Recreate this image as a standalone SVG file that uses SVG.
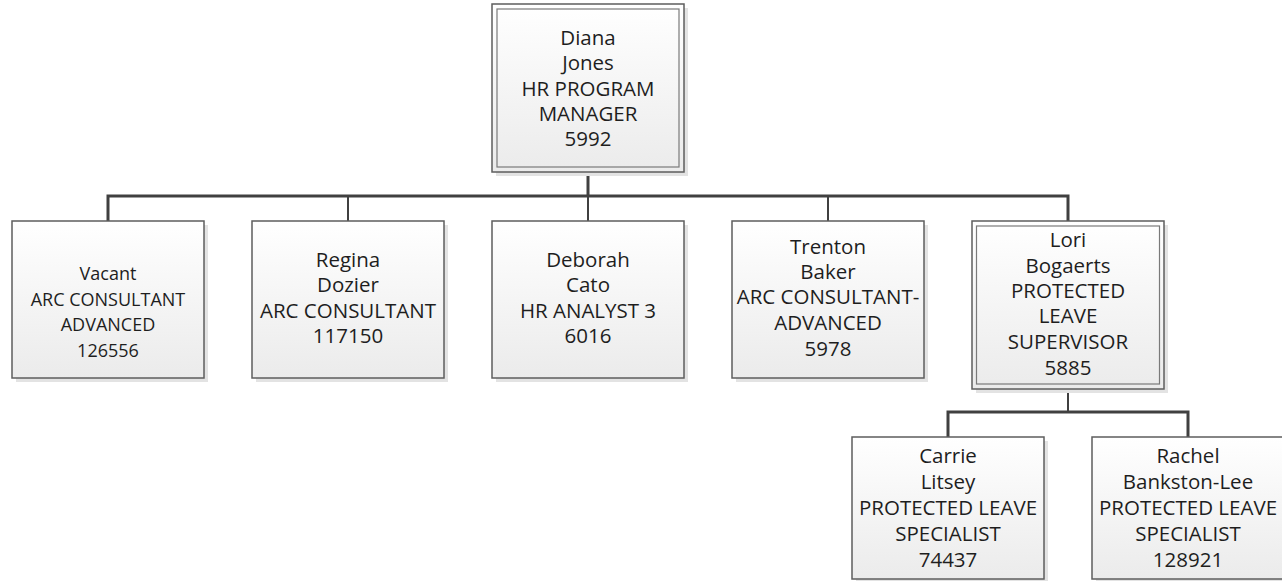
<svg xmlns="http://www.w3.org/2000/svg" width="1282" height="581" viewBox="0 0 1282 581">
<defs>
<linearGradient id="fillg" x1="0" y1="0" x2="0" y2="1">
<stop offset="0" stop-color="#ffffff"/>
<stop offset="1" stop-color="#ebebeb"/>
</linearGradient>
</defs>
<style>
.shadow{fill:#e3e3e3;stroke:none}
.box{fill:url(#fillg);stroke:#5e5e5e;stroke-width:1.5}
.inner{fill:none;stroke:#7a7a7a;stroke-width:1.2}
.bus{fill:none;stroke:#404040;stroke-width:3}
.drop{fill:none;stroke:#404040;stroke-width:2}
text{font-family:"Open Sans","Liberation Sans",sans-serif;font-size:20.5px;fill:#1e1e1e;text-anchor:middle}
text.small{font-size:18px}
</style>
<rect width="1282" height="581" fill="#ffffff"/>
<g id="connectors">
<path class="bus" d="M588,172 V196"/>
<path class="bus" d="M108,221 V196 H1068 V221"/>
<path class="drop" d="M348,196 V221 M588,196 V221 M828,196 V221"/>
<path class="drop" d="M1068,389 V412"/>
<path class="bus" d="M948,437 V412 H1188 V437"/>
</g>
<g id="diana">
<rect class="shadow" x="496" y="8" width="192" height="168"/>
<rect class="box" x="492" y="4" width="192" height="168"/>
<rect class="inner" x="497" y="9" width="182" height="158"/>
<text x="588" y="45">Diana</text>
<text x="588" y="70">Jones</text>
<text x="588" y="96">HR PROGRAM</text>
<text x="588" y="121">MANAGER</text>
<text x="588" y="146">5992</text>
</g>
<g id="vacant">
<rect class="shadow" x="16" y="225" width="192" height="157"/>
<rect class="box" x="12" y="221" width="192" height="157"/>
<text class="small" x="108" y="280">Vacant</text>
<text class="small" x="108" y="306">ARC CONSULTANT</text>
<text class="small" x="108" y="331">ADVANCED</text>
<text class="small" x="108" y="357">126556</text>
</g>
<g id="regina">
<rect class="shadow" x="256" y="225" width="192" height="157"/>
<rect class="box" x="252" y="221" width="192" height="157"/>
<text x="348" y="267">Regina</text>
<text x="348" y="292">Dozier</text>
<text x="348" y="318">ARC CONSULTANT</text>
<text x="348" y="343">117150</text>
</g>
<g id="deborah">
<rect class="shadow" x="496" y="225" width="192" height="157"/>
<rect class="box" x="492" y="221" width="192" height="157"/>
<text x="588" y="267">Deborah</text>
<text x="588" y="292">Cato</text>
<text x="588" y="318">HR ANALYST 3</text>
<text x="588" y="343">6016</text>
</g>
<g id="trenton">
<rect class="shadow" x="736" y="225" width="192" height="157"/>
<rect class="box" x="732" y="221" width="192" height="157"/>
<text x="828" y="254">Trenton</text>
<text x="828" y="279">Baker</text>
<text x="828" y="304">ARC CONSULTANT-</text>
<text x="828" y="330">ADVANCED</text>
<text x="828" y="356">5978</text>
</g>
<g id="lori">
<rect class="shadow" x="976" y="225" width="192" height="168"/>
<rect class="box" x="972" y="221" width="192" height="168"/>
<rect class="inner" x="976.5" y="226" width="183" height="158"/>
<text x="1068" y="247">Lori</text>
<text x="1068" y="273">Bogaerts</text>
<text x="1068" y="298">PROTECTED</text>
<text x="1068" y="323">LEAVE</text>
<text x="1068" y="349">SUPERVISOR</text>
<text x="1068" y="375">5885</text>
</g>
<g id="carrie">
<rect class="shadow" x="856" y="441" width="192" height="150"/>
<rect class="box" x="852" y="437" width="192" height="142"/>
<text x="948" y="463">Carrie</text>
<text x="948" y="489">Litsey</text>
<text x="948" y="515">PROTECTED LEAVE</text>
<text x="948" y="541">SPECIALIST</text>
<text x="948" y="567">74437</text>
</g>
<g id="rachel">
<rect class="shadow" x="1096" y="441" width="192" height="150"/>
<rect class="box" x="1092" y="437" width="192" height="142"/>
<text x="1188" y="463">Rachel</text>
<text x="1188" y="489">Bankston-Lee</text>
<text x="1188" y="515">PROTECTED LEAVE</text>
<text x="1188" y="541">SPECIALIST</text>
<text x="1188" y="567">128921</text>
</g>
</svg>
